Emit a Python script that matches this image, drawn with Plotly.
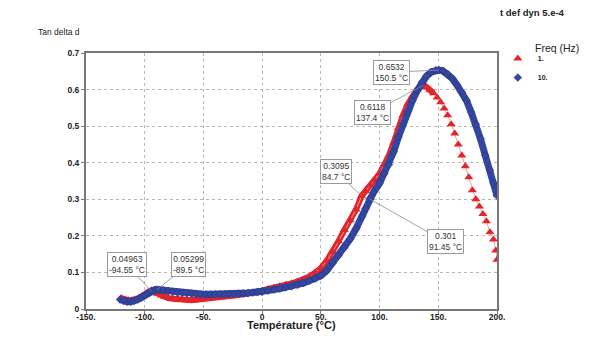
import numpy as np
import plotly.graph_objects as go

# ---------------- data ----------------
temp_1hz = [-120, -117, -114, -111, -108, -105, -102, -99, -96.5, -94.55, -92, -89, -86, -83, -80,
            -76, -72, -68, -64, -60, -56, -52, -48, -44, -40, -36, -32, -28, -24, -20, -16, -12,
            -8, -4, 0, 5, 10, 15, 20, 25, 30, 35, 40, 45, 50, 55, 60, 65, 70, 75, 80, 84.7,
            88, 92, 96, 100, 104, 108, 112, 116, 120, 124, 128, 132, 135, 137.4, 140, 143, 146,
            149, 152, 155, 158, 161, 164, 167, 170, 173, 176, 179, 182, 185, 188, 191, 194,
            197, 199, 200]
tan_1hz = [0.030, 0.026, 0.024, 0.024, 0.026, 0.030, 0.036, 0.043, 0.048, 0.04963, 0.047, 0.042,
           0.037, 0.033, 0.030, 0.028, 0.026, 0.025, 0.024, 0.024, 0.025, 0.026, 0.028, 0.030,
           0.031, 0.032, 0.034, 0.035, 0.037, 0.038, 0.040, 0.042, 0.044, 0.047, 0.050, 0.055,
           0.058, 0.062, 0.066, 0.070, 0.075, 0.081, 0.088, 0.099, 0.112, 0.132, 0.156, 0.185,
           0.216, 0.243, 0.272, 0.3095, 0.322, 0.338, 0.353, 0.370, 0.395, 0.420, 0.455, 0.495,
           0.530, 0.560, 0.583, 0.600, 0.608, 0.6118, 0.607, 0.598, 0.590, 0.578, 0.565, 0.548,
           0.530, 0.505, 0.480, 0.450, 0.420, 0.390, 0.360, 0.325, 0.300, 0.280, 0.260, 0.240,
           0.210, 0.190, 0.160, 0.135]

temp_10hz = [-121, -118, -115, -112, -109, -106, -103, -100, -97, -94, -91.5, -89.5, -87, -84, -80,
             -76, -72, -68, -64, -60, -56, -52, -48, -44, -40, -36, -32, -28, -24, -20, -16, -12,
             -8, -4, 0, 5, 10, 15, 20, 25, 30, 35, 40, 45, 50, 55, 60, 65, 70, 75, 80, 85, 88,
             91.45, 95, 100, 104, 108, 112, 116, 120, 124, 128, 132, 136, 140, 144, 148, 150.5,
             154, 158, 162, 166, 170, 174, 178, 182, 186, 190, 194, 197, 200]
tan_10hz = [0.026, 0.022, 0.020, 0.020, 0.022, 0.026, 0.031, 0.038, 0.045, 0.050, 0.052, 0.05299,
            0.052, 0.051, 0.049, 0.047, 0.045, 0.044, 0.043, 0.042, 0.041, 0.040, 0.040, 0.040,
            0.040, 0.040, 0.040, 0.041, 0.041, 0.042, 0.043, 0.044, 0.045, 0.046, 0.047, 0.050,
            0.053, 0.056, 0.059, 0.062, 0.066, 0.071, 0.077, 0.083, 0.091, 0.105, 0.126, 0.146,
            0.168, 0.192, 0.220, 0.253, 0.275, 0.301, 0.320, 0.344, 0.370, 0.395, 0.430, 0.470,
            0.507, 0.540, 0.570, 0.597, 0.620, 0.637, 0.648, 0.653, 0.6532, 0.651, 0.643, 0.630,
            0.612, 0.593, 0.570, 0.538, 0.505, 0.465, 0.420, 0.380, 0.345, 0.310]

x_tickvals = [-150, -100, -50, 0, 50, 100, 150, 200]
x_ticktext = ["-150.", "-100.", "-50.", "0", "50.", "100.", "150.", "200."]
y_tickvals = [0, 0.1, 0.2, 0.3, 0.4, 0.5, 0.6, 0.7]
y_ticktext = ["0", "0.1", "0.2", "0.3", "0.4", "0.5", "0.6", "0.7"]

# labelled points: (text, x, y, box offset x, box offset y)
labels = [
    ("0.6532<br>150.5 °C", 150.5, 0.6532, -47, 2),
    ("0.6118<br>137.4 °C", 137.4, 0.6118, -51, 27),
    ("0.3095<br>84.7 °C", 84.7, 0.3095, -26, -24),
    ("0.301<br>91.45 °C", 91.45, 0.301, 76, 43),
    ("0.04963<br>-94.55 °C", -94.55, 0.04963, -24, -26),
    ("0.05299<br>-89.5 °C", -89.5, 0.05299, 31, -25),
]

RED = "#e3242b"
BLUE = "#3447a0"
FONT = "Liberation Sans, Arial, sans-serif"

t1 = np.array(temp_1hz)
v1 = np.array(tan_1hz)
band = t1 <= 146

fig = go.Figure()
# 1 Hz: dense band part, thin connecting line, triangle markers
fig.add_trace(go.Scatter(x=t1[band], y=v1[band], mode="lines",
                         line=dict(color=RED, width=6), showlegend=False, hoverinfo="skip"))
fig.add_trace(go.Scatter(x=temp_1hz, y=tan_1hz, mode="lines",
                         line=dict(color="#f0a0a0", width=1), showlegend=False, hoverinfo="skip"))
fig.add_trace(go.Scatter(x=temp_1hz, y=tan_1hz, mode="markers", name="<b>1.</b>",
                         marker=dict(symbol="triangle-up", size=8, color=RED)))
# 10 Hz: dense band + diamond markers
fig.add_trace(go.Scatter(x=temp_10hz, y=tan_10hz, mode="lines",
                         line=dict(color=BLUE, width=7), showlegend=False, hoverinfo="skip"))
fig.add_trace(go.Scatter(x=temp_10hz, y=tan_10hz, mode="markers", name="<b>10.</b>",
                         marker=dict(symbol="diamond", size=6, color=BLUE,
                                     line=dict(color="#23307a", width=0.5))))

for text, lx, ly, ax, ay in labels:
    fig.add_annotation(x=lx, y=ly, text=text, showarrow=True, arrowhead=0,
                       arrowcolor="#8a8a8a", arrowwidth=0.8, ax=ax, ay=ay,
                       bgcolor="white", bordercolor="#9a9a9a", borderwidth=1, borderpad=1,
                       font=dict(family=FONT, size=8.5, color="#333"), align="center")

fig.add_annotation(xref="paper", yref="paper", x=0.5, y=-0.0625, text="<b>Température (°C)</b>",
                   showarrow=False, font=dict(family=FONT, size=11, color="#222"),
                   xanchor="center", yanchor="middle")
fig.add_annotation(xref="paper", yref="paper", x=-0.121, y=1.082, text="Tan delta d",
                   showarrow=False, font=dict(family=FONT, size=8.5, color="#222"),
                   xanchor="left", yanchor="middle")
fig.add_annotation(xref="paper", yref="paper", x=1.170, y=1.16, text="<b>t def dyn 5.e-4</b>",
                   showarrow=False, font=dict(family=FONT, size=9.5, color="#222"),
                   xanchor="right", yanchor="middle")
fig.add_annotation(xref="paper", yref="paper", x=1.145, y=1.02, text="Freq (Hz)",
                   showarrow=False, font=dict(family=FONT, size=10.5, color="#222"),
                   xanchor="center", yanchor="middle")

fig.update_layout(
    width=615, height=350,
    margin=dict(l=86, r=118, t=53, b=41),
    paper_bgcolor="white", plot_bgcolor="white",
    font=dict(family=FONT, color="#222"),
    showlegend=True,
    legend=dict(x=1.002, y=1.035, xanchor="left", yanchor="top",
                font=dict(size=7, family=FONT), tracegroupgap=0,
                bgcolor="rgba(0,0,0,0)"),
    xaxis=dict(range=[-150, 200], tickvals=x_tickvals,
               ticktext=["<b>%s</b>" % t for t in x_ticktext],
               tickfont=dict(size=8.5, family=FONT, color="#222"),
               showgrid=True, gridcolor="#b8b8b8", griddash="dot", gridwidth=1,
               showline=True, linecolor="#777", linewidth=2, mirror=True,
               ticks="outside", ticklen=3, tickcolor="#777", zeroline=False,
               ticklabelstandoff=-4),
    yaxis=dict(range=[0, 0.7], tickvals=y_tickvals,
               ticktext=["<b>%s</b>" % t for t in y_ticktext],
               tickfont=dict(size=8.5, family=FONT, color="#222"),
               showgrid=True, gridcolor="#b8b8b8", griddash="dot", gridwidth=1,
               showline=True, linecolor="#777", linewidth=2, mirror=True,
               ticks="outside", ticklen=3, tickcolor="#777", zeroline=False),
)

fig.write_html("out.html")
